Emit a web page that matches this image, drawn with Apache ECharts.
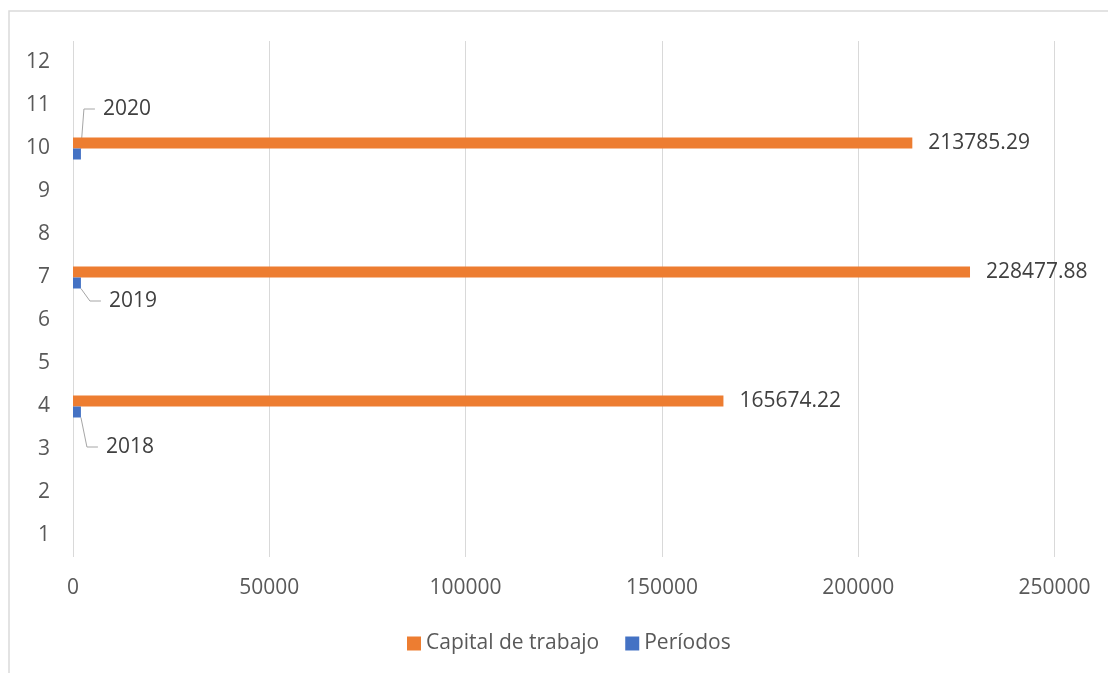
<!DOCTYPE html>
<html>
<head>
<meta charset="utf-8">
<title>Capital de trabajo</title>
<script src="https://cdn.jsdelivr.net/npm/echarts@6/dist/echarts.min.js"></script>
<style>
  html, body { margin: 0; padding: 0; background: #ffffff; overflow: hidden; }
  #chart { width: 1108px; height: 673px; }
</style>
</head>
<body>
<div id="chart"></div>
<script>
// Category labels on the vertical axis
const categories = ['1', '2', '3', '4', '5', '6', '7', '8', '9', '10', '11', '12'];
// Working capital per row (rows 4, 7 and 10 hold the three periods)
const capitalValues = [null, null, null, 165674.22, null, null, 228477.88, null, null, 213785.29, null, null];
// Period (year) per row
const periodValues = [null, null, null, 2018, null, null, 2019, null, null, 2020, null, null];
// Horizontal axis ticks
const xMin = 0;
const xMax = 250000;
const xStep = 50000;

// Where each year label is pulled to, relative to its bar, so a leader line is drawn
const yearLabelShift = {
  3: { dx: 17, dy: 35 },
  6: { dx: 20, dy: 18 },
  9: { dx: 14, dy: -45 }
};

const FONT = '"Open Sans", "Noto Sans", sans-serif';
const FS = 21;
const chart = echarts.init(document.getElementById('chart'), null, { renderer: 'canvas' });

chart.setOption({
  backgroundColor: '#ffffff',
  animation: false,
  textStyle: { fontFamily: FONT },
  graphic: [{
    type: 'rect',
    silent: true,
    shape: { x: 9, y: 11, width: 1200, height: 800 },
    style: { fill: 'none', stroke: '#dadada', lineWidth: 1.5 }
  }],
  grid: { left: 73, right: 53.5, top: 41, bottom: 116, containLabel: false },
  legend: {
    left: 402,
    top: 628,
    itemWidth: 14,
    itemHeight: 14,
    itemGap: 26,
    icon: 'rect',
    data: ['Capital de trabajo', 'Períodos'],
    textStyle: { fontSize: FS, color: '#595959', fontFamily: FONT }
  },
  xAxis: {
    type: 'value',
    min: xMin,
    max: xMax,
    interval: xStep,
    axisLine: { show: false },
    axisTick: { show: false },
    splitLine: { show: true, lineStyle: { color: '#d9d9d9', width: 1 } },
    axisLabel: {
      fontSize: FS, color: '#595959', margin: 21, fontFamily: FONT,
      formatter: (v) => String(v)
    }
  },
  yAxis: {
    type: 'category',
    data: categories,
    axisLine: { show: false },
    axisTick: { show: false },
    splitLine: { show: false },
    axisLabel: { fontSize: FS, color: '#595959', margin: 23, fontFamily: FONT }
  },
  series: [
    {
      name: 'Capital de trabajo',
      type: 'bar',
      data: capitalValues,
      barWidth: 11,
      barGap: '0%',
      itemStyle: { color: '#ED7D31' },
      label: {
        show: true,
        position: 'right',
        distance: 16,
        fontSize: FS,
        color: '#404040',
        fontFamily: FONT,
        formatter: (p) => p.value.toFixed(2)
      }
    },
    {
      name: 'Períodos',
      type: 'bar',
      data: periodValues,
      barWidth: 11,
      barGap: '0%',
      itemStyle: { color: '#4472C4' },
      label: {
        show: true,
        position: 'right',
        distance: 0,
        padding: [0, 8],
        backgroundColor: 'rgba(255,255,255,0)',
        fontSize: FS,
        color: '#404040',
        fontFamily: FONT
      },
      labelLine: {
        show: true,
        length2: 11,
        minTurnAngle: 0,
        lineStyle: { color: '#a6a6a6', width: 1 }
      },
      labelLayout: (p) => yearLabelShift[p.dataIndex] || {}
    }
  ]
});
</script>
</body>
</html>
